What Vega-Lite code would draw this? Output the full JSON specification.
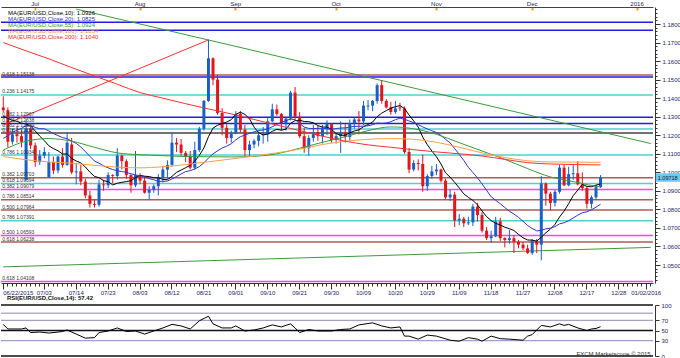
{
"$schema":"https://vega.github.io/schema/vega-lite/v6.json",
"padding":{"left":0,"top":0,"right":0,"bottom":0},
"background":"white",
"spacing":0,
"resolve":{"scale":{"stroke":"independent","strokeWidth":"independent","color":"independent","x":"independent","y":"independent"}},
"config":{"view":{"stroke":null},"font":"Liberation Sans","axis":{"labelFont":"Liberation Sans","labelFontSize":6,"labelColor":"#1c2566","domainColor":"#333333","tickColor":"#333333","grid":false},"legend":{"labelFont":"Liberation Sans"}},
"datasets":{
"levels":[
{"p":1.1810,"k":"blue","t":""},
{"p":1.1766,"k":"blue","t":""},
{"p":1.1525,"k":"brown","t":""},
{"p":1.15138,"k":"blue","t":"0.618 1.15138"},
{"p":1.14175,"k":"teal","t":"0.236 1.14175"},
{"p":1.12967,"k":"blue","t":"0.382 1.12967"},
{"p":1.12638,"k":"blue","t":"0.236 1.12638"},
{"p":1.12339,"k":"teal","t":"0.382 1.12339"},
{"p":1.12118,"k":"gray","t":"0.618 1.12118"},
{"p":1.10934,"k":"teal","t":"0.786 1.10934"},
{"p":1.09703,"k":"brown","t":"0.382 1.09703"},
{"p":1.09394,"k":"teal","t":"0.618 1.09394"},
{"p":1.09079,"k":"magenta","t":"0.382 1.09079"},
{"p":1.08514,"k":"brown","t":"0.786 1.08514"},
{"p":1.07964,"k":"brown","t":"0.500 1.07964"},
{"p":1.07391,"k":"teal","t":"0.786 1.07391"},
{"p":1.06593,"k":"magenta","t":"0.500 1.06593"},
{"p":1.06238,"k":"brown","t":"0.618 1.06238"},
{"p":1.04108,"k":"magenta","t":"0.618 1.04108"}
],
"trend":[
{"n":"g1","k":"tgreen","d":"07/14","p":1.18806},
{"n":"g1","k":"tgreen","d":"01/06","p":1.11553},
{"n":"r1","k":"tred","d":"06/22","p":1.1255},
{"n":"r1","k":"tred","d":"08/24","p":1.1714},
{"n":"g2","k":"tgreen","d":"06/22","p":1.0490},
{"n":"g2","k":"tgreen","d":"01/06","p":1.0595}
],
"tag":[{"d":"01/06","p":1.09718,"t":"1.09718"}],
"candles":[
{"d":"06/22","o":1.1350,"h":1.1410,"l":1.1325,"c":1.1335,"m10":1.1303,"m20":1.1183},
{"d":"06/23","o":1.1335,"h":1.1350,"l":1.1135,"c":1.1165,"m10":1.1291,"m20":1.1197},
{"d":"06/24","o":1.1165,"h":1.1235,"l":1.1150,"c":1.1205,"m10":1.1280,"m20":1.1213},
{"d":"06/25","o":1.1205,"h":1.1250,"l":1.1160,"c":1.1195,"m10":1.1275,"m20":1.1228},
{"d":"06/26","o":1.1195,"h":1.1230,"l":1.1135,"c":1.1165,"m10":1.1265,"m20":1.1237},
{"d":"06/29","o":1.0960,"h":1.1280,"l":1.0955,"c":1.1235,"m10":1.1261,"m20":1.1252},
{"d":"06/30","o":1.1235,"h":1.1245,"l":1.1125,"c":1.1145,"m10":1.1251,"m20":1.1252},
{"d":"07/01","o":1.1145,"h":1.1160,"l":1.1030,"c":1.1055,"m10":1.1223,"m20":1.1242},
{"d":"07/02","o":1.1055,"h":1.1120,"l":1.1040,"c":1.1090,"m10":1.1195,"m20":1.1235},
{"d":"07/03","o":1.1090,"h":1.1135,"l":1.1075,"c":1.1110,"m10":1.1171,"m20":1.1235},
{"d":"07/06","o":1.0975,"h":1.1110,"l":1.0970,"c":1.1055,"m10":1.1143,"m20":1.1223},
{"d":"07/07","o":1.1055,"h":1.1085,"l":1.0990,"c":1.1010,"m10":1.1128,"m20":1.1209},
{"d":"07/08","o":1.1010,"h":1.1090,"l":1.0995,"c":1.1085,"m10":1.1116,"m20":1.1198},
{"d":"07/09","o":1.1085,"h":1.1130,"l":1.1025,"c":1.1040,"m10":1.1099,"m20":1.1187},
{"d":"07/10","o":1.1040,"h":1.1215,"l":1.1035,"c":1.1160,"m10":1.1099,"m20":1.1182},
{"d":"07/13","o":1.1150,"h":1.1185,"l":1.0990,"c":1.1000,"m10":1.1075,"m20":1.1168},
{"d":"07/14","o":1.1000,"h":1.1050,"l":1.0935,"c":1.1005,"m10":1.1061,"m20":1.1156},
{"d":"07/15","o":1.1005,"h":1.1040,"l":1.0930,"c":1.0950,"m10":1.1051,"m20":1.1137},
{"d":"07/16","o":1.0950,"h":1.0965,"l":1.0860,"c":1.0875,"m10":1.1029,"m20":1.1112},
{"d":"07/17","o":1.0875,"h":1.0900,"l":1.0810,"c":1.0830,"m10":1.1001,"m20":1.1086},
{"d":"07/20","o":1.0830,"h":1.0855,"l":1.0810,"c":1.0825,"m10":1.0978,"m20":1.1061},
{"d":"07/21","o":1.0825,"h":1.0960,"l":1.0815,"c":1.0935,"m10":1.0971,"m20":1.1049},
{"d":"07/22","o":1.0935,"h":1.0960,"l":1.0900,"c":1.0930,"m10":1.0955,"m20":1.1035},
{"d":"07/23","o":1.0930,"h":1.1000,"l":1.0915,"c":1.0985,"m10":1.0950,"m20":1.1024},
{"d":"07/24","o":1.0985,"h":1.0990,"l":1.0940,"c":1.0980,"m10":1.0932,"m20":1.1015},
{"d":"07/27","o":1.0980,"h":1.1130,"l":1.0960,"c":1.1090,"m10":1.0941,"m20":1.1008},
{"d":"07/28","o":1.1090,"h":1.1095,"l":1.1015,"c":1.1060,"m10":1.0946,"m20":1.1004},
{"d":"07/29","o":1.1060,"h":1.1070,"l":1.0965,"c":1.0985,"m10":1.0950,"m20":1.1000},
{"d":"07/30","o":1.0985,"h":1.0990,"l":1.0890,"c":1.0930,"m10":1.0955,"m20":1.0992},
{"d":"07/31","o":1.0930,"h":1.1115,"l":1.0920,"c":1.0985,"m10":1.0971,"m20":1.0986},
{"d":"08/03","o":1.0985,"h":1.0995,"l":1.0935,"c":1.0955,"m10":1.0984,"m20":1.0981},
{"d":"08/04","o":1.0955,"h":1.0980,"l":1.0885,"c":1.0890,"m10":1.0979,"m20":1.0975},
{"d":"08/05","o":1.0890,"h":1.0925,"l":1.0850,"c":1.0905,"m10":1.0977,"m20":1.0966},
{"d":"08/06","o":1.0905,"h":1.0935,"l":1.0890,"c":1.0925,"m10":1.0971,"m20":1.0960},
{"d":"08/07","o":1.0925,"h":1.0990,"l":1.0875,"c":1.0970,"m10":1.0970,"m20":1.0951},
{"d":"08/10","o":1.0970,"h":1.1035,"l":1.0945,"c":1.1015,"m10":1.0962,"m20":1.0951},
{"d":"08/11","o":1.1015,"h":1.1065,"l":1.0965,"c":1.1040,"m10":1.0960,"m20":1.0953},
{"d":"08/12","o":1.1040,"h":1.1215,"l":1.1030,"c":1.1160,"m10":1.0978,"m20":1.0964},
{"d":"08/13","o":1.1160,"h":1.1185,"l":1.1110,"c":1.1150,"m10":1.1000,"m20":1.0977},
{"d":"08/14","o":1.1150,"h":1.1180,"l":1.1090,"c":1.1105,"m10":1.1012,"m20":1.0991},
{"d":"08/17","o":1.1105,"h":1.1115,"l":1.1055,"c":1.1085,"m10":1.1025,"m20":1.1004},
{"d":"08/18","o":1.1085,"h":1.1115,"l":1.1015,"c":1.1025,"m10":1.1038,"m20":1.1009},
{"d":"08/19","o":1.1025,"h":1.1165,"l":1.1015,"c":1.1120,"m10":1.1060,"m20":1.1018},
{"d":"08/20","o":1.1120,"h":1.1245,"l":1.1110,"c":1.1235,"m10":1.1091,"m20":1.1031},
{"d":"08/21","o":1.1235,"h":1.1390,"l":1.1225,"c":1.1385,"m10":1.1132,"m20":1.1051},
{"d":"08/24","o":1.1385,"h":1.1715,"l":1.1380,"c":1.1615,"m10":1.1192,"m20":1.1077},
{"d":"08/25","o":1.1615,"h":1.1620,"l":1.1470,"c":1.1500,"m10":1.1238,"m20":1.1099},
{"d":"08/26","o":1.1500,"h":1.1525,"l":1.1310,"c":1.1320,"m10":1.1254,"m20":1.1116},
{"d":"08/27","o":1.1320,"h":1.1345,"l":1.1200,"c":1.1240,"m10":1.1263,"m20":1.1131},
{"d":"08/28","o":1.1240,"h":1.1260,"l":1.1155,"c":1.1185,"m10":1.1271,"m20":1.1141},
{"d":"08/31","o":1.1185,"h":1.1225,"l":1.1160,"c":1.1210,"m10":1.1284,"m20":1.1154},
{"d":"09/01","o":1.1210,"h":1.1330,"l":1.1205,"c":1.1315,"m10":1.1313,"m20":1.1175},
{"d":"09/02","o":1.1315,"h":1.1330,"l":1.1215,"c":1.1230,"m10":1.1324,"m20":1.1192},
{"d":"09/03","o":1.1230,"h":1.1255,"l":1.1085,"c":1.1120,"m10":1.1312,"m20":1.1201},
{"d":"09/04","o":1.1120,"h":1.1170,"l":1.1085,"c":1.1150,"m10":1.1289,"m20":1.1210},
{"d":"09/07","o":1.1150,"h":1.1180,"l":1.1130,"c":1.1170,"m10":1.1244,"m20":1.1218},
{"d":"09/08","o":1.1170,"h":1.1220,"l":1.1140,"c":1.1200,"m10":1.1214,"m20":1.1226},
{"d":"09/09","o":1.1200,"h":1.1245,"l":1.1155,"c":1.1205,"m10":1.1202,"m20":1.1228},
{"d":"09/10","o":1.1205,"h":1.1295,"l":1.1165,"c":1.1275,"m10":1.1206,"m20":1.1234},
{"d":"09/11","o":1.1275,"h":1.1370,"l":1.1270,"c":1.1340,"m10":1.1221,"m20":1.1246},
{"d":"09/14","o":1.1340,"h":1.1365,"l":1.1305,"c":1.1315,"m10":1.1232,"m20":1.1258},
{"d":"09/15","o":1.1315,"h":1.1320,"l":1.1225,"c":1.1265,"m10":1.1227,"m20":1.1270},
{"d":"09/16","o":1.1265,"h":1.1300,"l":1.1225,"c":1.1290,"m10":1.1233,"m20":1.1278},
{"d":"09/17","o":1.1290,"h":1.1440,"l":1.1280,"c":1.1430,"m10":1.1264,"m20":1.1288},
{"d":"09/18","o":1.1430,"h":1.1460,"l":1.1285,"c":1.1300,"m10":1.1279,"m20":1.1284},
{"d":"09/21","o":1.1300,"h":1.1325,"l":1.1185,"c":1.1195,"m10":1.1281,"m20":1.1263},
{"d":"09/22","o":1.1195,"h":1.1240,"l":1.1105,"c":1.1130,"m10":1.1274,"m20":1.1244},
{"d":"09/23","o":1.1130,"h":1.1200,"l":1.1090,"c":1.1185,"m10":1.1273,"m20":1.1237},
{"d":"09/24","o":1.1185,"h":1.1255,"l":1.1165,"c":1.1215,"m10":1.1267,"m20":1.1236},
{"d":"09/25","o":1.1215,"h":1.1250,"l":1.1170,"c":1.1195,"m10":1.1252,"m20":1.1237},
{"d":"09/28","o":1.1195,"h":1.1255,"l":1.1155,"c":1.1235,"m10":1.1244,"m20":1.1238},
{"d":"09/29","o":1.1235,"h":1.1280,"l":1.1200,"c":1.1260,"m10":1.1244,"m20":1.1235},
{"d":"09/30","o":1.1260,"h":1.1265,"l":1.1160,"c":1.1175,"m10":1.1232,"m20":1.1232},
{"d":"10/01","o":1.1175,"h":1.1210,"l":1.1155,"c":1.1195,"m10":1.1209,"m20":1.1236},
{"d":"10/02","o":1.1195,"h":1.1275,"l":1.1105,"c":1.1215,"m10":1.1200,"m20":1.1239},
{"d":"10/05","o":1.1215,"h":1.1260,"l":1.1160,"c":1.1190,"m10":1.1200,"m20":1.1240},
{"d":"10/06","o":1.1190,"h":1.1285,"l":1.1170,"c":1.1265,"m10":1.1213,"m20":1.1244},
{"d":"10/07","o":1.1265,"h":1.1295,"l":1.1235,"c":1.1285,"m10":1.1223,"m20":1.1248},
{"d":"10/08","o":1.1285,"h":1.1330,"l":1.1205,"c":1.1275,"m10":1.1229,"m20":1.1248},
{"d":"10/09","o":1.1275,"h":1.1385,"l":1.1255,"c":1.1360,"m10":1.1246,"m20":1.1249},
{"d":"10/12","o":1.1355,"h":1.1390,"l":1.1335,"c":1.1360,"m10":1.1258,"m20":1.1251},
{"d":"10/13","o":1.1360,"h":1.1390,"l":1.1330,"c":1.1385,"m10":1.1271,"m20":1.1257},
{"d":"10/14","o":1.1385,"h":1.1480,"l":1.1370,"c":1.1470,"m10":1.1300,"m20":1.1266},
{"d":"10/15","o":1.1470,"h":1.1495,"l":1.1370,"c":1.1385,"m10":1.1319,"m20":1.1264},
{"d":"10/16","o":1.1385,"h":1.1395,"l":1.1345,"c":1.1350,"m10":1.1333,"m20":1.1266},
{"d":"10/19","o":1.1350,"h":1.1380,"l":1.1310,"c":1.1325,"m10":1.1346,"m20":1.1273},
{"d":"10/20","o":1.1325,"h":1.1385,"l":1.1315,"c":1.1345,"m10":1.1354,"m20":1.1284},
{"d":"10/21","o":1.1350,"h":1.1375,"l":1.1330,"c":1.1345,"m10":1.1360,"m20":1.1292},
{"d":"10/22","o":1.1345,"h":1.1355,"l":1.1100,"c":1.1110,"m10":1.1344,"m20":1.1286},
{"d":"10/23","o":1.1110,"h":1.1130,"l":1.0995,"c":1.1015,"m10":1.1309,"m20":1.1277},
{"d":"10/26","o":1.1015,"h":1.1065,"l":1.1005,"c":1.1050,"m10":1.1278,"m20":1.1268},
{"d":"10/27","o":1.1050,"h":1.1070,"l":1.1010,"c":1.1045,"m10":1.1244,"m20":1.1257},
{"d":"10/28","o":1.1045,"h":1.1095,"l":1.0895,"c":1.0925,"m10":1.1190,"m20":1.1245},
{"d":"10/29","o":1.0925,"h":1.0990,"l":1.0900,"c":1.0980,"m10":1.1149,"m20":1.1234},
{"d":"10/30","o":1.0980,"h":1.1035,"l":1.0965,"c":1.1005,"m10":1.1115,"m20":1.1224},
{"d":"11/02","o":1.1005,"h":1.1045,"l":1.0985,"c":1.1015,"m10":1.1084,"m20":1.1215},
{"d":"11/03","o":1.1015,"h":1.1020,"l":1.0945,"c":1.0955,"m10":1.1045,"m20":1.1199},
{"d":"11/04","o":1.0955,"h":1.0965,"l":1.0855,"c":1.0865,"m10":1.0997,"m20":1.1178},
{"d":"11/05","o":1.0865,"h":1.0905,"l":1.0845,"c":1.0880,"m10":1.0974,"m20":1.1159},
{"d":"11/06","o":1.0880,"h":1.0895,"l":1.0705,"c":1.0740,"m10":1.0946,"m20":1.1128},
{"d":"11/09","o":1.0740,"h":1.0775,"l":1.0715,"c":1.0750,"m10":1.0916,"m20":1.1097},
{"d":"11/10","o":1.0750,"h":1.0760,"l":1.0705,"c":1.0725,"m10":1.0884,"m20":1.1064},
{"d":"11/11","o":1.0725,"h":1.0760,"l":1.0715,"c":1.0730,"m10":1.0865,"m20":1.1027},
{"d":"11/12","o":1.0730,"h":1.0830,"l":1.0710,"c":1.0815,"m10":1.0848,"m20":1.0999},
{"d":"11/13","o":1.0815,"h":1.0835,"l":1.0735,"c":1.0770,"m10":1.0825,"m20":1.0970},
{"d":"11/16","o":1.0770,"h":1.0785,"l":1.0675,"c":1.0685,"m10":1.0792,"m20":1.0938},
{"d":"11/17","o":1.0685,"h":1.0705,"l":1.0635,"c":1.0645,"m10":1.0761,"m20":1.0903},
{"d":"11/18","o":1.0645,"h":1.0685,"l":1.0620,"c":1.0655,"m10":1.0740,"m20":1.0868},
{"d":"11/19","o":1.0655,"h":1.0760,"l":1.0650,"c":1.0735,"m10":1.0725,"m20":1.0849},
{"d":"11/20","o":1.0735,"h":1.0755,"l":1.0630,"c":1.0645,"m10":1.0716,"m20":1.0831},
{"d":"11/23","o":1.0645,"h":1.0650,"l":1.0595,"c":1.0635,"m10":1.0704,"m20":1.0810},
{"d":"11/24","o":1.0635,"h":1.0690,"l":1.0615,"c":1.0645,"m10":1.0696,"m20":1.0790},
{"d":"11/25","o":1.0645,"h":1.0660,"l":1.0565,"c":1.0625,"m10":1.0686,"m20":1.0775},
{"d":"11/26","o":1.0625,"h":1.0635,"l":1.0590,"c":1.0610,"m10":1.0665,"m20":1.0757},
{"d":"11/27","o":1.0610,"h":1.0625,"l":1.0580,"c":1.0590,"m10":1.0647,"m20":1.0736},
{"d":"11/30","o":1.0590,"h":1.0610,"l":1.0560,"c":1.0565,"m10":1.0635,"m20":1.0713},
{"d":"12/01","o":1.0565,"h":1.0640,"l":1.0555,"c":1.0630,"m10":1.0634,"m20":1.0697},
{"d":"12/02","o":1.0630,"h":1.0640,"l":1.0565,"c":1.0610,"m10":1.0629,"m20":1.0684},
{"d":"12/03","o":1.0610,"h":1.0980,"l":1.0525,"c":1.0940,"m10":1.0650,"m20":1.0687},
{"d":"12/04","o":1.0940,"h":1.0945,"l":1.0820,"c":1.0885,"m10":1.0674,"m20":1.0695},
{"d":"12/07","o":1.0885,"h":1.0895,"l":1.0795,"c":1.0835,"m10":1.0694,"m20":1.0699},
{"d":"12/08","o":1.0835,"h":1.0905,"l":1.0815,"c":1.0895,"m10":1.0719,"m20":1.0707},
{"d":"12/09","o":1.0895,"h":1.1040,"l":1.0885,"c":1.1025,"m10":1.0759,"m20":1.0722},
{"d":"12/10","o":1.1025,"h":1.1040,"l":1.0925,"c":1.0930,"m10":1.0791,"m20":1.0728},
{"d":"12/11","o":1.0930,"h":1.1030,"l":1.0925,"c":1.0990,"m10":1.0831,"m20":1.0739},
{"d":"12/14","o":1.0990,"h":1.1045,"l":1.0960,"c":1.0995,"m10":1.0874,"m20":1.0754},
{"d":"12/15","o":1.0995,"h":1.1060,"l":1.0930,"c":1.0935,"m10":1.0904,"m20":1.0769},
{"d":"12/16","o":1.0935,"h":1.1000,"l":1.0900,"c":1.0915,"m10":1.0935,"m20":1.0782},
{"d":"12/17","o":1.0915,"h":1.0925,"l":1.0805,"c":1.0830,"m10":1.0924,"m20":1.0787},
{"d":"12/18","o":1.0830,"h":1.0875,"l":1.0805,"c":1.0865,"m10":1.0922,"m20":1.0798},
{"d":"12/21","o":1.0865,"h":1.0935,"l":1.0850,"c":1.0920,"m10":1.0930,"m20":1.0812},
{"d":"12/22","o":1.0920,"h":1.0985,"l":1.0915,"c":1.0972,"m10":1.0938,"m20":1.0828}
],
"slow":[
{"d":"06/22","m55":1.1120,"m100":1.1085,"m200":1.1700},
{"d":"06/29","m55":1.1168,"m100":1.1068,"m200":1.1655},
{"d":"07/06","m55":1.1182,"m100":1.1056,"m200":1.1612},
{"d":"07/13","m55":1.1168,"m100":1.1049,"m200":1.1565},
{"d":"07/20","m55":1.1135,"m100":1.1038,"m200":1.1520},
{"d":"07/27","m55":1.1105,"m100":1.1028,"m200":1.1475},
{"d":"08/03","m55":1.1095,"m100":1.1024,"m200":1.1430},
{"d":"08/10","m55":1.1090,"m100":1.1030,"m200":1.1400},
{"d":"08/17","m55":1.1085,"m100":1.1042,"m200":1.1370},
{"d":"08/24","m55":1.1084,"m100":1.1057,"m200":1.1342},
{"d":"08/31","m55":1.1083,"m100":1.1072,"m200":1.1315},
{"d":"09/07","m55":1.1086,"m100":1.1088,"m200":1.1285},
{"d":"09/14","m55":1.1100,"m100":1.1105,"m200":1.1255},
{"d":"09/21","m55":1.1130,"m100":1.1125,"m200":1.1225},
{"d":"09/28","m55":1.1162,"m100":1.1150,"m200":1.1195},
{"d":"10/05","m55":1.1192,"m100":1.1167,"m200":1.1168},
{"d":"10/12","m55":1.1225,"m100":1.1178,"m200":1.1148},
{"d":"10/19","m55":1.1245,"m100":1.1182,"m200":1.1135},
{"d":"10/26","m55":1.1235,"m100":1.1178,"m200":1.1122},
{"d":"11/02","m55":1.1205,"m100":1.1162,"m200":1.1110},
{"d":"11/09","m55":1.1160,"m100":1.1135,"m200":1.1100},
{"d":"11/16","m55":1.1115,"m100":1.1105,"m200":1.1088},
{"d":"11/23","m55":1.1070,"m100":1.1080,"m200":1.1070},
{"d":"11/30","m55":1.1020,"m100":1.1062,"m200":1.1052},
{"d":"12/07","m55":1.0975,"m100":1.1056,"m200":1.1045},
{"d":"12/14","m55":1.0950,"m100":1.1055,"m200":1.1042},
{"d":"12/21","m55":1.0925,"m100":1.1054,"m200":1.1040},
{"d":"12/22","m55":1.0922,"m100":1.1054,"m200":1.1040}
],
"rsi":[
{"d":"06/22","r":62},{"d":"06/23","r":53},{"d":"06/26","r":53},{"d":"06/29","r":55},{"d":"06/30","r":46},
{"d":"07/02","r":47},{"d":"07/06","r":45},{"d":"07/09","r":48},{"d":"07/10","r":51},{"d":"07/14","r":43},
{"d":"07/16","r":35},{"d":"07/20","r":36},{"d":"07/21","r":46},{"d":"07/23","r":49},{"d":"07/27","r":55},
{"d":"07/29","r":48},{"d":"07/31","r":49},{"d":"08/04","r":43},{"d":"08/06","r":49},{"d":"08/10","r":55},
{"d":"08/12","r":62},{"d":"08/14","r":59},{"d":"08/18","r":53},{"d":"08/20","r":69},{"d":"08/24","r":78},
{"d":"08/25","r":63},{"d":"08/27","r":55},{"d":"08/31","r":55},{"d":"09/01","r":59},{"d":"09/03","r":49},
{"d":"09/07","r":51},{"d":"09/09","r":55},{"d":"09/11","r":61},{"d":"09/15","r":57},{"d":"09/17","r":63},
{"d":"09/18","r":55},{"d":"09/21","r":46},{"d":"09/23","r":52},{"d":"09/25","r":49},{"d":"09/30","r":49},
{"d":"10/02","r":52},{"d":"10/06","r":53},{"d":"10/08","r":61},{"d":"10/13","r":65},{"d":"10/15","r":59},
{"d":"10/19","r":55},{"d":"10/21","r":57},{"d":"10/22","r":39},{"d":"10/23","r":39},{"d":"10/27","r":33},
{"d":"10/29","r":41},{"d":"11/02","r":39},{"d":"11/05","r":31},{"d":"11/09","r":29},{"d":"11/11","r":36},
{"d":"11/13","r":33},{"d":"11/16","r":29},{"d":"11/18","r":39},{"d":"11/20","r":34},{"d":"11/24","r":33},
{"d":"11/27","r":31},{"d":"11/30","r":39},{"d":"12/01","r":42},{"d":"12/03","r":60},{"d":"12/07","r":57},
{"d":"12/09","r":63},{"d":"12/10","r":60},{"d":"12/11","r":62},{"d":"12/15","r":55},{"d":"12/17","r":50},
{"d":"12/18","r":53},{"d":"12/21","r":54},{"d":"12/22","r":57.4}
],
"rsilev":[{"v":100,"k":"b"},{"v":84,"k":"s"},{"v":70,"k":"s"},{"v":50,"k":"b"},{"v":30,"k":"s"},{"v":0,"k":"b"}]
},
"vconcat":[
{
"width":652,"height":276,
"resolve":{"axis":{"x":"independent","y":"independent"}},
"layer":[
{"data":{"name":"levels"},"mark":{"type":"rule","strokeWidth":1.5},
 "encoding":{
  "y":{"field":"p","type":"quantitative","axis":null,"scale":{"domain":[1.0403,1.18917],"nice":false,"zero":false}},
  "stroke":{"field":"k","type":"nominal","legend":null,"scale":{"domain":["blue","brown","teal","gray","magenta","tgreen","tred"],"range":["#1e1ee6","#b05a5a","#4fd0d0","#454545","#ff40ff","#3c9c3c","#ff3333"]}}
 }},
{"data":{"name":"trend"},"mark":{"type":"line","strokeWidth":1},
 "encoding":{
  "x":{"field":"d","type":"ordinal","title":null,
   "axis":{"orient":"top","title":null,"values":["07/01","08/03","09/01","10/01","11/02","12/01","01/01"],
    "labelExpr":"['Jul','Aug','Sep','Oct','Nov','Dec','2016'][indexof(['07/01','08/03','09/01','10/01','11/02','12/01','01/01'], datum.value)]",
    "tickColor":"#f39c2c","tickWidth":2,"tickSize":-3,"labelPadding":4,"labelAngle":0,"labelFontSize":6,"domainColor":"#444444"}},
  "y":{"field":"p","type":"quantitative","axis":null},
  "stroke":{"field":"k","type":"nominal","legend":null},
  "detail":{"field":"n"}
 }},
{"data":{"name":"candles"},"mark":{"type":"rule","strokeWidth":1},
 "encoding":{
  "x":{"field":"d","type":"ordinal","axis":null},
  "y":{"field":"l","type":"quantitative","axis":null},"y2":{"field":"h"},
  "color":{"condition":{"test":"datum.c >= datum.o","value":"#1a5fc8"},"value":"#e3141b"}
 }},
{"data":{"name":"candles"},"mark":{"type":"bar","size":3},
 "encoding":{
  "x":{"field":"d","type":"ordinal","title":null,
   "scale":{"type":"band","paddingInner":0,"paddingOuter":0,"domain":["06/22","06/23","06/24","06/25","06/26","06/29","06/30","07/01","07/02","07/03","07/06","07/07","07/08","07/09","07/10","07/13","07/14","07/15","07/16","07/17","07/20","07/21","07/22","07/23","07/24","07/27","07/28","07/29","07/30","07/31","08/03","08/04","08/05","08/06","08/07","08/10","08/11","08/12","08/13","08/14","08/17","08/18","08/19","08/20","08/21","08/24","08/25","08/26","08/27","08/28","08/31","09/01","09/02","09/03","09/04","09/07","09/08","09/09","09/10","09/11","09/14","09/15","09/16","09/17","09/18","09/21","09/22","09/23","09/24","09/25","09/28","09/29","09/30","10/01","10/02","10/05","10/06","10/07","10/08","10/09","10/12","10/13","10/14","10/15","10/16","10/19","10/20","10/21","10/22","10/23","10/26","10/27","10/28","10/29","10/30","11/02","11/03","11/04","11/05","11/06","11/09","11/10","11/11","11/12","11/13","11/16","11/17","11/18","11/19","11/20","11/23","11/24","11/25","11/26","11/27","11/30","12/01","12/02","12/03","12/04","12/07","12/08","12/09","12/10","12/11","12/14","12/15","12/16","12/17","12/18","12/21","12/22","12/23","12/24","12/25","12/28","12/29","12/30","12/31","01/01","01/04","01/05","01/06"]},
   "axis":{"orient":"bottom","title":null,"labelAngle":0,"labelOverlap":false,"labelBound":false,"labelPadding":0,"labelFontSize":6,
    "labelExpr":"datum.value == '06/22' ? '06/22/2015' : datum.value == '01/05' ? '01/02/2016' : indexof(['07/03','07/14','07/23','08/03','08/12','08/21','09/01','09/10','09/21','09/30','10/09','10/20','10/29','11/09','11/18','11/27','12/08','12/17','12/28'], datum.value) >= 0 ? datum.value : ''",
    "labelAlign":{"condition":{"test":"datum.value == '06/22'","value":"left"},"value":"center"},
    "tickSize":{"condition":{"test":"indexof(['06/22','07/03','07/14','07/23','08/03','08/12','08/21','09/01','09/10','09/21','09/30','10/09','10/20','10/29','11/09','11/18','11/27','12/08','12/17','12/28','01/05'], datum.value) >= 0","value":6},"value":3}}},
  "y":{"field":"o","type":"quantitative","title":null,
   "axis":{"orient":"right","title":null,"offset":2,"values":[1.042,1.044,1.046,1.048,1.05,1.052,1.054,1.056,1.058,1.06,1.062,1.064,1.066,1.068,1.07,1.072,1.074,1.076,1.078,1.08,1.082,1.084,1.086,1.088,1.09,1.092,1.094,1.096,1.098,1.1,1.102,1.104,1.106,1.108,1.11,1.112,1.114,1.116,1.118,1.12,1.122,1.124,1.126,1.128,1.13,1.132,1.134,1.136,1.138,1.14,1.142,1.144,1.146,1.148,1.15,1.152,1.154,1.156,1.158,1.16,1.162,1.164,1.166,1.168,1.17,1.172,1.174,1.176,1.178,1.18,1.182,1.184,1.186,1.188],
    "labelExpr":"abs(datum.value*100 - round(datum.value*100)) < 0.01 ? format(datum.value, '.4f') : ''",
    "tickSize":{"condition":{"test":"abs(datum.value*100 - round(datum.value*100)) < 0.01","value":5},"value":2},
    "labelOverlap":false,"labelPadding":2,"labelFontSize":6}},
  "y2":{"field":"c"},
  "color":{"condition":{"test":"datum.c >= datum.o","value":"#1a5fc8"},"value":"#e3141b"}
 }},
{"data":{"name":"candles"},"transform":[{"fold":["m10","m20"],"as":["ma","v"]}],"mark":{"type":"line","strokeWidth":1},
 "encoding":{
  "x":{"field":"d","type":"ordinal","axis":null},
  "y":{"field":"v","type":"quantitative","axis":null},
  "color":{"field":"ma","type":"nominal","scale":{"domain":["m10","m20","m55","m100","m200"],"range":["#000000","#3333dd","#3c9c3c","#ffa040","#ff3030"]},
   "legend":{"orient":"none","legendX":1,"legendY":3,"title":null,"padding":0,"rowPadding":0,"symbolSize":0,"symbolStrokeWidth":0,"symbolOpacity":0,"symbolType":"stroke","labelOffset":0,"labelFontSize":6,"labelLimit":300,
    "labelExpr":"datum.value == 'm10' ? 'MA(EUR/USD,Close,10): 1.0926' : datum.value == 'm20' ? 'MA(EUR/USD,Close,20): 1.0825' : datum.value == 'm55' ? 'MA(EUR/USD,Close,55): 1.0924' : datum.value == 'm100' ? 'MA(EUR/USD,Close,100): 1.1054' : 'MA(EUR/USD,Close,200): 1.1040'",
    "labelColor":{"expr":"datum.value == 'm10' ? '#000000' : datum.value == 'm20' ? '#2b2bd9' : datum.value == 'm55' ? '#2e9e2e' : datum.value == 'm100' ? '#ff9933' : '#ff2a2a'"}}}
 }},
{"data":{"name":"slow"},"transform":[{"fold":["m55","m100","m200"],"as":["ma","v"]}],"mark":{"type":"line","strokeWidth":1,"interpolate":"monotone"},
 "encoding":{
  "x":{"field":"d","type":"ordinal","axis":null},
  "y":{"field":"v","type":"quantitative","axis":null},
  "color":{"field":"ma","type":"nominal","legend":null}
 }},
{"data":{"name":"levels"},"transform":[{"filter":"datum.t != ''"}],"mark":{"type":"text","align":"left","baseline":"bottom","dx":-1,"dy":-0.5,"fontSize":5,"color":"#333333"},
 "encoding":{
  "x":{"datum":"06/22","type":"ordinal","axis":null},
  "y":{"field":"p","type":"quantitative","axis":null},
  "text":{"field":"t"}
 }},
{"data":{"name":"tag"},"mark":{"type":"point","shape":"M0.5,-0.42L3.0,-0.42L3.0,0.42L0.5,0.42Z","size":400,"filled":true,"color":"#6ec8ef","opacity":1,"strokeWidth":0},
 "encoding":{
  "x":{"field":"d","type":"ordinal","axis":null},
  "y":{"field":"p","type":"quantitative","axis":null}
 }},
{"data":{"name":"tag"},"mark":{"type":"text","dx":17,"fontSize":5.5,"color":"#101840","baseline":"middle","align":"center"},
 "encoding":{
  "x":{"field":"d","type":"ordinal","axis":null},
  "y":{"field":"p","type":"quantitative","axis":null},
  "text":{"field":"t"}
 }}
]
},
{
"width":652,"height":51,
"resolve":{"axis":{"x":"independent","y":"independent"}},
"title":{"text":"RSI(EUR/USD,Close,14): 57.42","anchor":"start","frame":"group","fontSize":6,"fontWeight":"bold","offset":1,"dx":6,"color":"#111111","font":"Liberation Sans"},
"layer":[
{"data":{"name":"rsilev"},"mark":{"type":"rule"},
 "encoding":{
  "y":{"field":"v","type":"quantitative","axis":null,"scale":{"domain":[0,100],"nice":false}},
  "stroke":{"field":"k","type":"nominal","legend":null,"scale":{"domain":["b","s"],"range":["#111111","#8a8ab8"]}},
  "strokeWidth":{"field":"k","type":"nominal","legend":null,"scale":{"domain":["b","s"],"range":[1.5,1]}}
 }},
{"data":{"name":"rsi"},"mark":{"type":"line","color":"#000000","strokeWidth":1},
 "encoding":{
  "x":{"field":"d","type":"ordinal","axis":null,
   "scale":{"type":"band","paddingInner":0,"paddingOuter":0,"domain":["06/22","06/23","06/24","06/25","06/26","06/29","06/30","07/01","07/02","07/03","07/06","07/07","07/08","07/09","07/10","07/13","07/14","07/15","07/16","07/17","07/20","07/21","07/22","07/23","07/24","07/27","07/28","07/29","07/30","07/31","08/03","08/04","08/05","08/06","08/07","08/10","08/11","08/12","08/13","08/14","08/17","08/18","08/19","08/20","08/21","08/24","08/25","08/26","08/27","08/28","08/31","09/01","09/02","09/03","09/04","09/07","09/08","09/09","09/10","09/11","09/14","09/15","09/16","09/17","09/18","09/21","09/22","09/23","09/24","09/25","09/28","09/29","09/30","10/01","10/02","10/05","10/06","10/07","10/08","10/09","10/12","10/13","10/14","10/15","10/16","10/19","10/20","10/21","10/22","10/23","10/26","10/27","10/28","10/29","10/30","11/02","11/03","11/04","11/05","11/06","11/09","11/10","11/11","11/12","11/13","11/16","11/17","11/18","11/19","11/20","11/23","11/24","11/25","11/26","11/27","11/30","12/01","12/02","12/03","12/04","12/07","12/08","12/09","12/10","12/11","12/14","12/15","12/16","12/17","12/18","12/21","12/22","12/23","12/24","12/25","12/28","12/29","12/30","12/31","01/01","01/04","01/05","01/06"]}},
  "y":{"field":"r","type":"quantitative","title":null,
   "axis":{"orient":"right","title":null,"offset":2,"values":[0,30,50,70,100],"tickSize":4,"labelPadding":2,"labelFontSize":6,"labelOverlap":false}}
 }},
{"data":{"values":[{"d":"01/06","v":0,"t":"FXCM Marketscope © 2015"}]},"mark":{"type":"text","align":"right","baseline":"middle","fontSize":6,"color":"#333333","dy":-2},
 "encoding":{
  "x":{"field":"d","type":"ordinal","axis":null},
  "y":{"field":"v","type":"quantitative","axis":null},
  "text":{"field":"t"}
 }}
]
}
]
}
